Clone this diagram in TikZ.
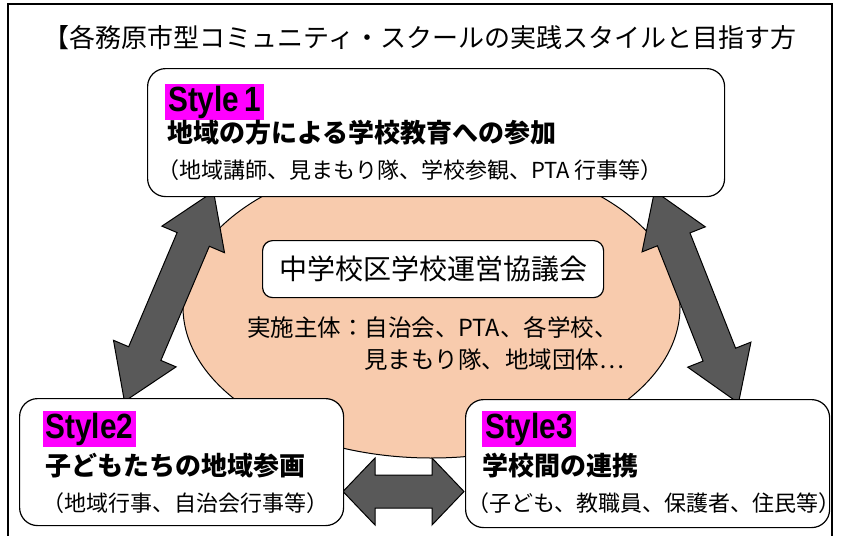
\documentclass[tikz,border=0pt]{standalone}
\usepackage{fontspec}
\setmainfont{Noto Sans CJK JP}
\newfontfamily\lblfont{Liberation Sans}
\definecolor{mag}{HTML}{FF00FF}
\definecolor{peach}{HTML}{F8CBAD}
\definecolor{arrgray}{HTML}{595959}
\newcommand\blockarr[7]{%
\begin{scope}[shift={(#1,#2)},rotate=#3]
\draw[arrowfill] ({-#4/2},0) -- ({-#4/2+#5},#6) -- ({-#4/2+#5},#7) -- ({#4/2-#5},#7) -- ({#4/2-#5},#6) -- ({#4/2},0)
 -- ({#4/2-#5},{-#6}) -- ({#4/2-#5},{-#7}) -- ({-#4/2+#5},{-#7}) -- ({-#4/2+#5},{-#6}) -- cycle;
\end{scope}}
\newcommand\lbltext[1]{\scalebox{0.85}[1]{#1}}
\begin{document}
\begin{tikzpicture}[x=1pt,y=-1pt,
  box/.style={draw=black,line width=1.2pt,rounded corners=18pt,fill=white,anchor=north west,inner sep=0pt},
  ibox/.style={draw=black,line width=1.2pt,rounded corners=10pt,fill=white,anchor=north west,inner sep=0pt},
  lbl/.style={fill=mag,inner xsep=3pt,inner ysep=0pt,minimum height=36pt,font=\lblfont\bfseries\fontsize{35}{35}\selectfont,anchor=center},
  txt/.style={inner sep=0pt},
  head/.style={txt,anchor=west,font=\bfseries\fontsize{26}{30}\selectfont},
  sub/.style={txt,anchor=center,font=\fontsize{22}{26}\selectfont},
  arrowfill/.style={fill=arrgray,draw=black,line width=1pt,line join=miter}]
\useasboundingbox (0,0) rectangle (842,535);
\clip (0,0) rectangle (842,535);
% frame
\draw[line width=1.2pt] (8,4) rectangle (832,560);
% title
\node[txt,font=\fontsize{26}{30}\selectfont] (title) at (420,38) {【各務原市型コミュニティ・スクールの実践スタイルと目指す方};
% ellipse
\draw[fill=peach,draw=black,line width=1pt] (431.5,307) ellipse [x radius=248.5, y radius=151];
% arrows
\blockarr{169}{296.5}{67}{228}{52}{34}{17.5}
\blockarr{696.5}{297}{111.6}{228}{52}{34}{17.5}
\blockarr{403.5}{491.5}{0}{121}{32}{33.5}{16.5}
% inner box
\node[ibox,minimum width=341pt,minimum height=57pt] (council) at (262,240) {};
\node[txt,font=\fontsize{28}{32}\selectfont] (ctext) at (council.center) {中学校区学校運営協議会};
\node[txt,anchor=west,font=\fontsize{23.5}{28}\selectfont] (impl1) at (247,328) {実施主体：自治会、PTA、各学校、};
\node[txt,anchor=west,font=\fontsize{23.5}{28}\selectfont] (impl2) at (364,360) {見まもり隊、地域団体…};
% Style1
\node[box,minimum width=577pt,minimum height=128pt] (s1) at (147,68) {};
\node[lbl] (l1) at (214.5,102) {\lbltext{Style\,1}};
\node[head] (h1) at (167,133) {地域の方による学校教育への参加};
\node[sub] (t1) at (410,170) {（地域講師、見まもり隊、学校参観、PTA 行事等）};
% Style2
\node[box,minimum width=324pt,minimum height=127pt] (s2) at (19,398) {};
\node[lbl] (l2) at (89.5,429) {\lbltext{Style2}};
\node[head] (h2) at (45,466) {子どもたちの地域参画};
\node[sub] (t2) at (185.5,503) {（地域行事、自治会行事等）};
% Style3
\node[box,minimum width=364pt,minimum height=128pt] (s3) at (465,399) {};
\node[lbl] (l3) at (529,429) {\lbltext{Style3}};
\node[head] (h3) at (482,466) {学校間の連携};
\node[sub] (t3) at (654,503) {（子ども、教職員、保護者、住民等）};
\end{tikzpicture}
\end{document}
